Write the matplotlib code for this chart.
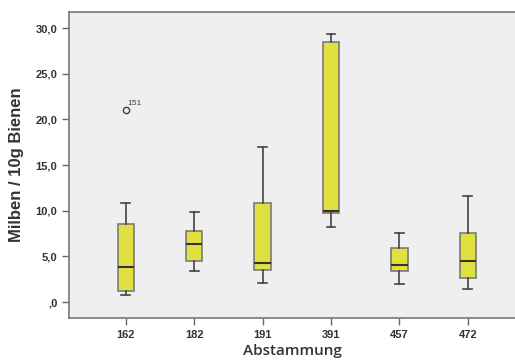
import matplotlib
matplotlib.use("Agg")
import matplotlib.pyplot as plt
from matplotlib.ticker import FuncFormatter

# Abstammung (Herkunft) und Kennwerte der Boxplots
groups = ["162", "182", "191", "391", "457", "472"]
whislo = [0.8, 3.4, 2.1, 8.2, 2.0, 1.4]
q1 = [1.2, 4.5, 3.5, 9.7, 3.4, 2.6]
med = [3.8, 6.3, 4.3, 10.0, 4.1, 4.5]
q3 = [8.5, 7.8, 10.8, 28.5, 5.9, 7.6]
whishi = [10.8, 9.9, 17.0, 29.4, 7.6, 11.6]
fliers = [[21.0], [], [], [], [], []]
flier_ids = ["151"]

stats = []
for i in range(len(groups)):
    stats.append({"whislo": whislo[i], "q1": q1[i], "med": med[i],
                  "q3": q3[i], "whishi": whishi[i], "fliers": fliers[i],
                  "label": groups[i]})

plt.rcParams["font.family"] = ["Liberation Sans", "DejaVu Sans"]

fig = plt.figure(figsize=(5.15, 3.63), dpi=100)
ax = fig.add_axes([0.134, 0.124, 0.866, 0.843])
ax.set_facecolor("#efefef")

ax.bxp(stats, positions=range(1, len(groups) + 1), widths=0.24,
       patch_artist=True, showfliers=True,
       boxprops=dict(facecolor="#e0e040", edgecolor="#7a7a7a", linewidth=1.2),
       medianprops=dict(color="#333333", linewidth=1.5),
       whiskerprops=dict(color="#444444", linewidth=1.2),
       capprops=dict(color="#444444", linewidth=1.2),
       capwidths=0.13,
       flierprops=dict(marker="o", markersize=4.5, markerfacecolor="none",
                       markeredgecolor="#444444", markeredgewidth=1.0))

ax.text(1.02, 21.6, flier_ids[0], fontsize=6, color="#444444")

ax.set_xlim(0.17, 6.69)
ax.set_ylim(-1.75, 31.76)
ax.set_yticks([0, 5, 10, 15, 20, 25, 30])
ax.yaxis.set_major_formatter(FuncFormatter(
    lambda v, p: ",0" if v == 0 else ("%.1f" % v).replace(".", ",")))
ax.tick_params(axis="both", labelsize=8, color="#666666", length=5, width=1)
for lab in ax.get_xticklabels() + ax.get_yticklabels():
    lab.set_fontweight("bold")
    lab.set_color("#333333")

for s in ["left", "bottom", "top"]:
    ax.spines[s].set_color("#777777")
    ax.spines[s].set_linewidth(1.2)
ax.spines["right"].set_visible(False)

ax.set_ylabel("Milben / 10g Bienen", fontsize=12, fontweight="bold", color="#333333", labelpad=8)
ax.set_xlabel("Abstammung", fontsize=11, fontweight="semibold", color="#333333", labelpad=3,
              family=["Open Sans", "DejaVu Sans"])

fig.savefig("out.png", dpi=100)
